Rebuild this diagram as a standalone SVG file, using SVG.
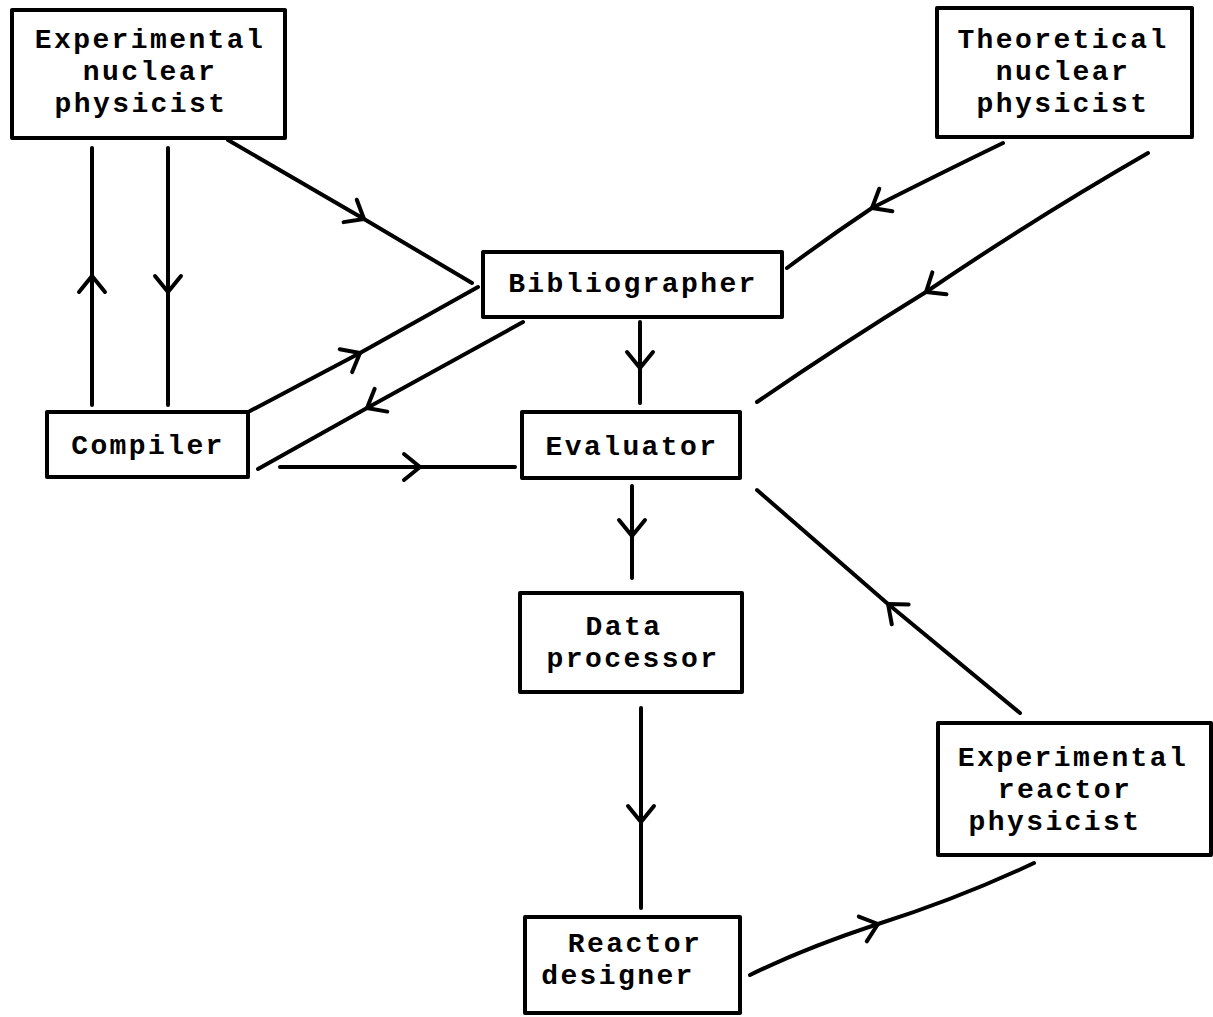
<svg xmlns="http://www.w3.org/2000/svg" width="1213" height="1017" viewBox="0 0 1213 1017">
<style>
.box{fill:#fff;stroke:#000;stroke-width:4;stroke-linejoin:round}
.lbl{font-family:"Liberation Mono","Courier New",monospace;font-weight:bold;font-size:28px;letter-spacing:2.4px;fill:#000;text-anchor:middle}
.con{fill:none;stroke:#000;stroke-width:4;stroke-linecap:round;stroke-linejoin:round;marker-mid:url(#chev)}
</style>
<defs>
<marker id="chev" markerUnits="userSpaceOnUse" markerWidth="40" markerHeight="40" refX="0" refY="0" viewBox="-20 -20 40 40" orient="auto" overflow="visible">
<path d="M -16 -13 L 0 0 L -16 13" fill="none" stroke="#000" stroke-width="4" stroke-linecap="round" stroke-linejoin="round"/>
</marker>
</defs>
<rect width="1213" height="1017" fill="#fff"/>
<g id="connectors">
<path class="con" d="M 92 405 L 92 276 L 92 148"/>
<path class="con" d="M 168 148 L 168 292 L 168 405"/>
<path class="con" d="M 228 140 L 364 219 L 472 283"/>
<path class="con" d="M 1003 143 Q 935 176 872 208 Q 830 236 787 268"/>
<path class="con" d="M 1148 153 Q 1035 218 926 292 Q 840 345 757 402"/>
<path class="con" d="M 250 411 L 360 353 L 478 287"/>
<path class="con" d="M 523 322 L 367 408 L 258 469"/>
<path class="con" d="M 280 467 L 420 467 L 515 467"/>
<path class="con" d="M 640 322 L 640 368 L 640 403"/>
<path class="con" d="M 632 486 L 632 536 L 632 578"/>
<path class="con" d="M 1020 713 L 888 604 L 757 490"/>
<path class="con" d="M 641 708 L 641 822 L 641 908"/>
<path class="con" d="M 750 975 Q 805 948 878 924 Q 960 898 1034 863"/>
</g>
<g id="exp-nuclear-physicist">
<rect class="box" x="12" y="10" width="273" height="128"/>
<text class="lbl" x="150" y="48">Experimental</text>
<text class="lbl" x="150" y="80">nuclear</text>
<text class="lbl" x="141" y="112">physicist</text>
</g>
<g id="theo-nuclear-physicist">
<rect class="box" x="937" y="8" width="255" height="129"/>
<text class="lbl" x="1063" y="48">Theoretical</text>
<text class="lbl" x="1063" y="80">nuclear</text>
<text class="lbl" x="1063" y="112">physicist</text>
</g>
<g id="bibliographer">
<rect class="box" x="483" y="252" width="299" height="65"/>
<text class="lbl" x="633" y="292">Bibliographer</text>
</g>
<g id="compiler">
<rect class="box" x="47" y="412" width="201" height="65"/>
<text class="lbl" x="148" y="454">Compiler</text>
</g>
<g id="evaluator">
<rect class="box" x="522" y="412" width="218" height="66"/>
<text class="lbl" x="632" y="455">Evaluator</text>
</g>
<g id="data-processor">
<rect class="box" x="520" y="593" width="222" height="99"/>
<text class="lbl" x="624" y="635">Data</text>
<text class="lbl" x="633" y="667">processor</text>
</g>
<g id="reactor-designer">
<rect class="box" x="525" y="917" width="215" height="96"/>
<text class="lbl" x="635" y="952">Reactor</text>
<text class="lbl" x="618" y="984">designer</text>
</g>
<g id="exp-reactor-physicist">
<rect class="box" x="938" y="723" width="273" height="132"/>
<text class="lbl" x="1073" y="766">Experimental</text>
<text class="lbl" x="1065" y="798">reactor</text>
<text class="lbl" x="1055" y="830">physicist</text>
</g>
</svg>
